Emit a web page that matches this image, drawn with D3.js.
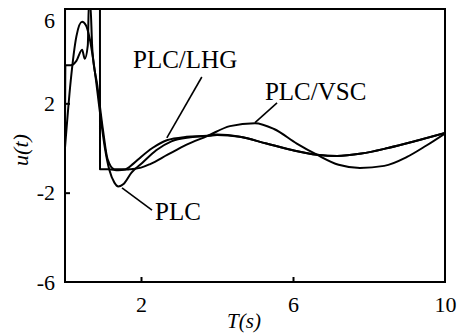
<!DOCTYPE html>
<html>
<head>
<meta charset="utf-8">
<script src="https://cdn.jsdelivr.net/npm/d3@7/dist/d3.min.js"></script>
<style>
  body { margin: 0; background: #fff; }
  svg { display: block; }
  text { font-family: "Liberation Serif", "Times New Roman", serif; fill: #000; }
</style>
</head>
<body>
<svg id="chart" width="461" height="335"></svg>
<script>
// time axis ticks and u(t) ticks
const xTicks = [2, 6, 10];
const yTicks = [6, 2, -2, -6];

// PLC/VSC: saturated pulse at start, then slow oscillation
const vscT = [0, 0.001, 0.92, 0.921, 1.15, 1.4, 1.7, 2.0, 2.24, 2.7, 3.2, 3.74, 4.34, 5.0, 5.5, 6.1, 6.63, 7.2, 7.76, 8.4, 9.0, 9.5, 10];
const vscU = [0, 6.6, 6.6, -0.95, -0.95, -1.0, -0.95, -0.88, -0.72, -0.3, 0.15, 0.53, 0.98, 1.11, 0.85, 0.2, -0.3, -0.75, -0.89, -0.8, -0.4, 0.1, 0.65];

// PLC/LHG
const lhgT = [0, 0.01, 0.15, 0.3, 0.45, 0.52, 0.6, 0.63, 0.66, 0.72, 0.85, 1.0, 1.12, 1.3, 1.58, 1.8, 2.0, 2.3, 2.68, 3.2, 3.74, 4.0, 4.6, 5.3, 6.0, 6.63, 7.16, 7.8, 8.5, 9.2, 10];
const lhgU = [0, 3.7, 3.7, 3.9, 4.4, 4.0, 4.6, 6.6, 6.6, 4.4, 2.8, 0.8, -0.5, -0.95, -0.95, -0.7, -0.4, 0.0, 0.35, 0.5, 0.55, 0.6, 0.5, 0.2, -0.1, -0.3, -0.36, -0.25, 0.0, 0.3, 0.67];

// PLC
const plcT = [0, 0.15, 0.3, 0.45, 0.55, 0.65, 0.78, 0.92, 1.05, 1.17, 1.3, 1.4, 1.55, 1.75, 2.03, 2.4, 2.8, 3.3, 3.8, 4.0, 4.6, 5.3, 6.0, 6.63, 7.16, 7.8, 8.5, 9.2, 10];
const plcU = [0, 3.0, 5.0, 5.65, 5.5, 4.9, 3.5, 1.6, 0.0, -1.0, -1.55, -1.72, -1.6, -1.1, -0.67, -0.1, 0.3, 0.48, 0.55, 0.58, 0.5, 0.2, -0.1, -0.3, -0.36, -0.25, 0.0, 0.3, 0.67];

// curve labels: text, baseline start (data units), pointer from/to (data units)
const labelNames = ["PLC/LHG", "PLC/VSC", "PLC"];
const labelPos = [[1.79, 3.58], [5.26, 2.15], [2.37, -3.22]];
const pointerFrom = [[3.6, 3.18], [5.58, 2.02], [1.5, -1.79]];
const pointerTo = [[2.68, 0.45], [5.0, 1.14], [2.29, -2.78]];

const svg = d3.select("#chart");
const padL = 65, padR = 445, padT = 9, padB = 282;

const x = d3.scaleLinear().domain([0, 10]).range([padL, padR]);
const y = d3.scaleLinear().domain([-6, 6]).range([padB, 14]);

svg.append("clipPath").attr("id", "clip")
  .append("rect")
  .attr("x", padL).attr("y", padT)
  .attr("width", padR - padL).attr("height", padB - padT);

// series lines
const line = d3.line()
  .x(d => x(d[0]))
  .y(d => y(d[1]))
  .curve(d3.curveMonotoneX);

const series = [
  d3.zip(vscT, vscU),
  d3.zip(lhgT, lhgU),
  d3.zip(plcT, plcU)
];

svg.append("g").attr("clip-path", "url(#clip)")
  .selectAll("path")
  .data(series)
  .enter()
  .append("path")
  .attr("d", line)
  .attr("fill", "none")
  .attr("stroke", "#000")
  .attr("stroke-width", 2)
  .attr("stroke-linejoin", "round");

// frame
svg.append("rect")
  .attr("x", padL).attr("y", padT)
  .attr("width", padR - padL).attr("height", padB - padT)
  .attr("fill", "none")
  .attr("stroke", "#000")
  .attr("stroke-width", 2);

// axes, ticks pointing inward
const xAxis = svg.append("g")
  .attr("transform", `translate(0,${padB})`)
  .call(d3.axisBottom(x).tickValues(xTicks).tickFormat(d => String(d))
    .tickSizeInner(-5).tickSizeOuter(0).tickPadding(14));
const yAxis = svg.append("g")
  .attr("transform", `translate(${padL},0)`)
  .call(d3.axisLeft(y).tickValues(yTicks).tickFormat(d => String(d))
    .tickSizeInner(-5).tickSizeOuter(0).tickPadding(10));

[xAxis, yAxis].forEach(g => {
  g.select(".domain").remove();
  g.selectAll(".tick line").attr("stroke", "#000").attr("stroke-width", 2);
  g.selectAll(".tick text")
    .style("font-family", "'Liberation Serif', serif")
    .style("font-size", "22px")
    .attr("fill", "#000");
});
xAxis.selectAll(".tick")
  .filter(d => d === 10)
  .select("line").remove();
yAxis.selectAll(".tick")
  .filter(d => d === 6 || d === -6)
  .select("line").remove();
yAxis.selectAll(".tick text")
  .filter(d => d === 6)
  .attr("dy", "0.6em");

// axis titles
svg.append("text")
  .attr("x", 244).attr("y", 328)
  .attr("text-anchor", "middle")
  .style("font-size", "21px")
  .style("font-style", "italic")
  .text("T(s)");

svg.append("text")
  .attr("transform", "translate(28,150) rotate(-90)")
  .attr("text-anchor", "middle")
  .style("font-size", "22px")
  .style("font-style", "italic")
  .text("u(t)");

// annotations
svg.append("g")
  .selectAll("line")
  .data(pointerFrom)
  .enter()
  .append("line")
  .attr("x1", d => x(d[0]))
  .attr("y1", d => y(d[1]))
  .attr("x2", (d, i) => x(pointerTo[i][0]))
  .attr("y2", (d, i) => y(pointerTo[i][1]))
  .attr("stroke", "#000")
  .attr("stroke-width", 1.6);

svg.append("g")
  .selectAll("text")
  .data(labelNames)
  .enter()
  .append("text")
  .attr("x", (d, i) => x(labelPos[i][0]))
  .attr("y", (d, i) => y(labelPos[i][1]))
  .style("font-size", "25px")
  .text(d => d);
</script>
</body>
</html>
